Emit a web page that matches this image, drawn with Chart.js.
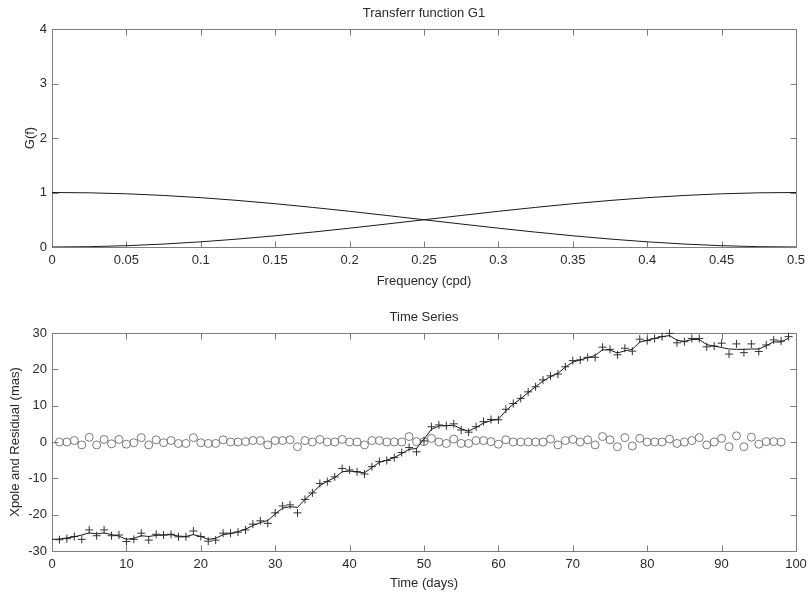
<!DOCTYPE html>
<html><head><meta charset="utf-8">
<script src="https://cdn.jsdelivr.net/npm/chart.js@4.4.1/dist/chart.umd.min.js"></script>
<style>
html,body{margin:0;padding:0;background:#fff;width:810px;height:595px;overflow:hidden}
canvas{position:absolute;left:0}
#c1{top:0}
#c2{top:300px}
</style></head><body>
<canvas id="c1" width="810" height="300"></canvas>
<canvas id="c2" width="810" height="295"></canvas>
<script>
// ---- Top panel data ----
const freq  = [0,0.025,0.05,0.075,0.1,0.125,0.15,0.175,0.2,0.225,0.25,0.275,0.3,0.325,0.35,0.375,0.4,0.425,0.45,0.475,0.5];
const gLow  = [1,0.994,0.976,0.946,0.905,0.854,0.794,0.727,0.655,0.578,0.5,0.422,0.345,0.273,0.206,0.146,0.095,0.054,0.024,0.006,0];
const gHigh = [0,0.006,0.024,0.054,0.095,0.146,0.206,0.273,0.345,0.422,0.5,0.578,0.655,0.727,0.794,0.854,0.905,0.946,0.976,0.994,1];
const freqTicks = [0,0.05,0.1,0.15,0.2,0.25,0.3,0.35,0.4,0.45,0.5];

// ---- Bottom panel data ----
const obsDays = [1,2,3,4,5,6,7,8,9,10,11,12,13,14,15,16,17,18,19,20,21,22,23,24,25,26,27,28,29,30,31,32,33,34,35,36,37,38,39,40,41,42,43,44,45,46,47,48,49,50,51,52,53,54,55,56,57,58,59,60,61,62,63,64,65,66,67,68,69,70,71,72,73,74,75,76,77,78,79,80,81,82,83,84,85,86,87,88,89,90,91,92,93,94,95,96,97,98,99];
const xpole = [-26.9,-26.6,-26.0,-26.8,-24.2,-25.8,-24.2,-25.8,-25.6,-27.4,-26.8,-25.1,-27.0,-25.4,-25.6,-25.4,-26.1,-26.1,-24.5,-26.0,-27.3,-27.0,-25.1,-25.1,-24.8,
  -24.2,-22.6,-21.7,-22.4,-19.5,-17.6,-17.3,-19.5,-15.8,-14.0,-11.4,-10.9,-9.6,-7.3,-7.7,-8.2,-8.8,-6.8,-5.4,-5.1,-4.3,-2.9,-1.5,-2.7,0.3,
  4.2,4.7,4.5,5.0,3.3,2.7,4.2,5.6,6.2,6.1,9.0,10.6,12.0,13.8,15.2,17.1,18.2,18.7,20.7,22.4,22.6,23.3,23.3,26.1,25.5,
  24.0,25.8,25.0,28.3,27.9,28.5,29.0,29.9,27.3,27.6,28.5,28.5,26.2,26.4,27.2,24.2,27.0,24.6,27.0,24.9,26.7,28.1,27.8,29.0];
const fitDays = [0,1,2,3,4,5,6,7,8,9,10,11,12,13,14,15,16,17,18,19,20,21,22,23,24,25,26,27,28,29,30,31,32,33,34,35,36,37,38,39,40,41,42,43,44,45,46,47,48,49,50,51,52,53,54,55,56,57,58,59,60,61,62,63,64,65,66,67,68,69,70,71,72,73,74,75,76,77,78,79,80,81,82,83,84,85,86,87,88,89,90,91,92,93,94,95,96,97,98,99];
const xpoleFit = [-26.8,-26.7,-26.4,-26.1,-25.6,-25.0,-25.3,-25.0,-25.5,-25.9,-26.8,-26.5,-25.8,-26.0,-25.7,-25.6,-25.5,-25.9,-26.0,-25.5,-26.0,-26.8,-26.5,-25.5,-25.2,
  -24.7,-24.0,-23.0,-22.2,-21.6,-19.8,-18.2,-17.8,-18.0,-15.8,-14.0,-12.0,-10.8,-9.8,-8.2,-8.0,-8.2,-8.5,-7.0,-5.6,-5.0,-4.3,-3.2,-2.0,-1.8,
  0.8,3.5,4.4,4.5,4.6,3.6,3.0,4.0,5.2,5.9,6.3,8.6,10.4,11.9,13.6,15.2,16.8,18.0,18.9,20.6,22.0,22.6,23.2,23.8,25.4,
  25.3,24.5,25.1,25.5,27.5,28.0,28.5,29.0,29.3,28.0,27.7,28.2,28.2,26.8,26.4,26.0,25.6,25.5,25.5,25.6,25.6,26.5,27.6,27.5,28.6];
const resDays = obsDays.slice(0, 98);
const residual = [0,0,0.4,-0.8,1.3,-0.8,0.7,-0.5,0.7,-0.6,-0.2,1.2,-0.8,0.6,-0.2,0.4,-0.4,-0.4,1.2,-0.2,-0.4,-0.4,0.6,0,0,
  0.1,0.4,0.4,-0.8,0.4,0.4,0.6,-1.3,0.4,0,0.7,0,0,0.7,0,0,-0.8,0.4,0.4,0,0,0,1.5,0.1,0.1,
  1.0,0,-0.4,0.8,-0.4,-0.4,0.4,0.4,0.1,-0.6,0.6,0,0,0,0,0,0.8,-0.8,0.4,0.7,0,0.6,-0.8,1.5,0.6,
  -1.3,1.2,-1.1,1.0,0,0,0,0.8,-0.4,0,0.4,1.2,-0.8,0,1.0,-1.3,1.7,-1.3,1.3,-0.6,0.1,0.1,0];
const dayTicks = [0,10,20,30,40,50,60,70,80,90,100];

const FONT = {family: '"Liberation Sans", Arial, sans-serif', size: 13};
const TXT = '#2a2a2a';

const pts = (xs, ys) => xs.map((v, i) => ({x: v, y: ys[i]}));
const fmt = v => String(Number(Number(v).toFixed(3)));

const boxTicks = {
  id: 'boxTicks',
  beforeDatasetsDraw(chart) {
    const {ctx, chartArea: a, scales: {x, y}} = chart;
    ctx.save();
    ctx.strokeStyle = '#7d7d7d';
    ctx.lineWidth = 1;
    const L = Math.round(a.left) + 0.5, R = Math.round(a.right) + 0.5;
    const T = Math.round(a.top) + 0.5, B = Math.round(a.bottom) + 0.5;
    ctx.strokeRect(L, T, R - L, B - T);
    ctx.beginPath();
    x.ticks.forEach(t => {
      const px = Math.round(x.getPixelForValue(t.value)) + 0.5;
      ctx.moveTo(px, B); ctx.lineTo(px, B - 6);
      ctx.moveTo(px, T); ctx.lineTo(px, T + 6);
    });
    y.ticks.forEach(t => {
      const py = Math.round(y.getPixelForValue(t.value)) + 0.5;
      ctx.moveTo(L, py); ctx.lineTo(L + 6, py);
      ctx.moveTo(R, py); ctx.lineTo(R - 6, py);
    });
    ctx.stroke();
    ctx.restore();
  }
};

function axisX(min, max, ticks, title, titlePad, height) {
  return {
    type: 'linear', min, max,
    afterBuildTicks: s => { s.ticks = ticks.map(v => ({value: v})); },
    grid: {display: false, drawTicks: false},
    border: {display: false},
    ticks: {color: TXT, font: FONT, padding: 6, maxRotation: 0, autoSkip: false, callback: v => fmt(v)},
    title: {display: true, text: title, color: TXT, font: FONT, padding: {top: 0, bottom: titlePad}},
    afterFit: s => { s.height = height; s.paddingLeft = 0; s.paddingRight = 0; }
  };
}
function axisY(min, max, step, title, titlePad) {
  return {
    type: 'linear', min, max,
    ticks: {stepSize: step, color: TXT, font: FONT, padding: 5, callback: v => fmt(v)},
    grid: {display: false, drawTicks: false},
    border: {display: false},
    title: {display: true, text: title, color: TXT, font: FONT, padding: {top: titlePad, bottom: 0}},
    afterFit: s => { s.width = 52; s.paddingTop = 0; s.paddingBottom = 0; }
  };
}

new Chart(document.getElementById('c1'), {
  type: 'scatter',
  data: {datasets: [
    {data: pts(freq, gLow), showLine: true, borderColor: '#1a1a1a', borderWidth: 1, pointRadius: 0, tension: 0},
    {data: pts(freq, gHigh), showLine: true, borderColor: '#1a1a1a', borderWidth: 1, pointRadius: 0, tension: 0}
  ]},
  options: {
    responsive: false, animation: false, devicePixelRatio: 1,
    layout: {padding: {left: 0, right: 14, top: 0, bottom: 0}},
    plugins: {
      legend: {display: false}, tooltip: {enabled: false},
      title: {display: true, text: 'Transferr function G1', color: TXT, font: {...FONT, weight: 'normal'}, fullSize: false, padding: {top: 5.5, bottom: 7.9}}
    },
    scales: {
      x: axisX(0, 0.5, freqTicks, 'Frequency (cpd)', 11.2, 53),
      y: axisY(0, 4, 1, 'G(f)', 22.2)
    }
  },
  plugins: [boxTicks]
});

new Chart(document.getElementById('c2'), {
  type: 'scatter',
  data: {datasets: [
    {data: pts(fitDays, xpoleFit), showLine: true, borderColor: '#1a1a1a', borderWidth: 1, pointRadius: 0, tension: 0},
    {data: pts(obsDays, xpole), showLine: false, pointStyle: 'cross', pointRadius: 4, borderColor: '#333', borderWidth: 1, clip: 6},
    {data: pts(resDays, residual), showLine: false, pointStyle: 'circle', pointRadius: 4, borderColor: '#7a7a7a', backgroundColor: 'rgba(0,0,0,0)', borderWidth: 1}
  ]},
  options: {
    responsive: false, animation: false, devicePixelRatio: 1,
    layout: {padding: {left: 0, right: 14, top: 0, bottom: 0}},
    plugins: {
      legend: {display: false}, tooltip: {enabled: false},
      title: {display: true, text: 'Time Series', color: TXT, font: {...FONT, weight: 'normal'}, fullSize: false, padding: {top: 9.9, bottom: 7.5}}
    },
    scales: {
      x: axisX(0, 100, dayTicks, 'Time (days)', 4.2, 44),
      y: axisY(-30, 30, 10, 'Xpole and Residual (mas)', 7.2)
    }
  },
  plugins: [boxTicks]
});
</script>
</body></html>
